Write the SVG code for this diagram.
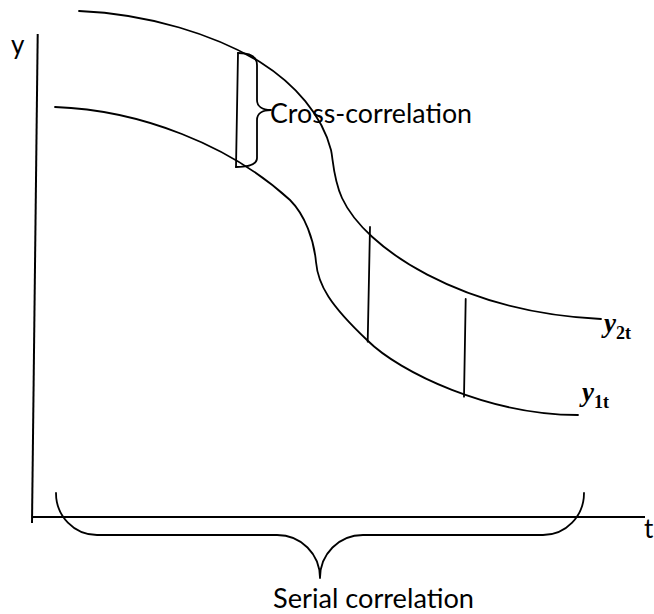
<svg xmlns="http://www.w3.org/2000/svg" width="654" height="614" viewBox="0 0 654 614">
<style>
.ln{fill:none;stroke:#000;stroke-width:1.8;stroke-linecap:round;stroke-linejoin:round}
.ax{fill:none;stroke:#000;stroke-width:2}
.lbl{font-family:Lato,"Open Sans","Liberation Sans",sans-serif;font-size:26px;fill:#000}
.mv{font-family:"Liberation Serif","DejaVu Serif",serif;font-weight:bold;fill:#000}
</style>
<rect width="654" height="614" fill="#fff"/>
<g id="axes">
<line class="ax" x1="37.7" y1="34" x2="32" y2="523"/>
<line class="ax" x1="32" y1="517" x2="645" y2="517"/>
<text class="lbl" x="11" y="53.5">y</text>
<text class="lbl" x="644" y="538">t</text>
</g>
<g id="curve-y2t">
<path class="ln" d="M79,11 C150,14 215,35 260,62 C295,84 322,115 331,150 C333,158 333,178 342,198 C365,248 460,312 601,319"/>
<text class="mv" x="604" y="332"><tspan font-style="italic" font-size="27">y</tspan><tspan font-size="18" dy="7">2t</tspan></text>
</g>
<g id="curve-y1t">
<path class="ln" d="M55,107 C140,110 230,145 290,200 C305,215 314,240 316,262 C318,285 330,305 367,340 C400,373 490,415 578,415"/>
<text class="mv" x="582" y="401"><tspan font-style="italic" font-size="27">y</tspan><tspan font-size="18" dy="7">1t</tspan></text>
</g>
<g id="connectors">
<line class="ln" x1="370" y1="227" x2="367.7" y2="341.7"/>
<line class="ln" x1="465.7" y1="299" x2="464" y2="396.7"/>
</g>
<g id="cross-correlation">
<line class="ln" x1="238" y1="53" x2="236" y2="167"/>
<path class="ln" d="M238,53 C250,53 257,57 257,65 L257,100 C257,106 262,110 271,110 C262,110 257,114 257,120 L257,158 C257,164 250,167 236,167"/>
<text class="lbl" x="270" y="123" textLength="202" lengthAdjust="spacingAndGlyphs">Cross-correlation</text>
</g>
<g id="serial-correlation">
<path class="ln" d="M56,493 C56,516 74,535 97,535 L277,535 C301,535 320,554 320,578 C320,554 339,535 363,535 L543,535 C566,535 584,516 584,493"/>
<text class="lbl" x="273" y="608" textLength="201" lengthAdjust="spacingAndGlyphs">Serial correlation</text>
</g>
</svg>
